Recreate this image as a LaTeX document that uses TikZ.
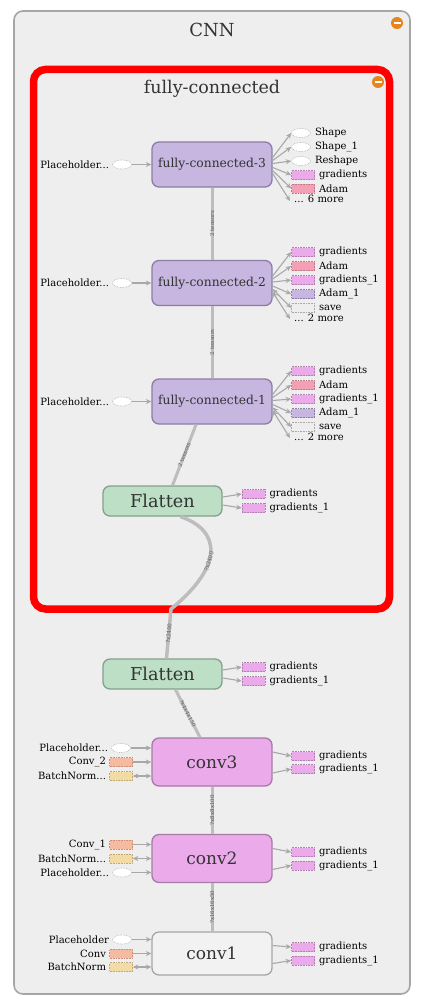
\documentclass[tikz,border=0pt]{standalone}
\usepackage{fontspec}
\setmainfont{DejaVu Serif}
\usetikzlibrary{arrows.meta,shapes.geometric,calc}
\definecolor{bgc}{HTML}{EEEEEE}
\definecolor{outc}{HTML}{A6A6A6}
\definecolor{txt}{HTML}{333333}
\definecolor{fcf}{HTML}{C6B6E0}
\definecolor{fcb}{HTML}{8C7DA6}
\definecolor{flf}{HTML}{BCDFC5}
\definecolor{flb}{HTML}{86A08C}
\definecolor{cvf}{HTML}{EBABEB}
\definecolor{cvb}{HTML}{A77BA7}
\definecolor{c1f}{HTML}{F2F2F2}
\definecolor{gradf}{HTML}{EBABEB}
\definecolor{gradb}{HTML}{B07FB0}
\definecolor{adamf}{HTML}{F2A0B4}
\definecolor{adamb}{HTML}{C07888}
\definecolor{convf}{HTML}{F5BBA0}
\definecolor{convb}{HTML}{C8907A}
\definecolor{bnf}{HTML}{F2DBA4}
\definecolor{bnb}{HTML}{C0A878}
\definecolor{arrc}{HTML}{A8A8A8}
\definecolor{edgec}{HTML}{BDBDBD}
\definecolor{iconc}{HTML}{E8841E}
\begin{document}
\begin{tikzpicture}[x=1pt,y=-1pt,
  fcbox/.style={draw=fcb,fill=fcf,rounded corners=7pt,line width=1.3pt,minimum width=120pt,minimum height=45pt,inner sep=0,text=txt,font=\fontsize{12.3}{14}\selectfont},
  flbox/.style={draw=flb,fill=flf,rounded corners=7pt,line width=1.3pt,minimum width=119pt,minimum height=30pt,inner sep=0,text=txt,font=\fontsize{17.7}{20}\selectfont},
  cvbox/.style={draw=cvb,fill=cvf,rounded corners=7pt,line width=1.3pt,minimum width=120pt,minimum height=48pt,inner sep=0,text=txt,font=\fontsize{17}{20}\selectfont},
  smr/.style={rectangle,densely dotted,line width=0.6pt,minimum width=23pt,minimum height=9pt,inner sep=0},
  sGrad/.style={smr,draw=gradb,fill=gradf},
  sAdam/.style={smr,draw=adamb,fill=adamf},
  sAdamOne/.style={smr,draw=fcb,fill=fcf},
  sConv/.style={smr,draw=convb,fill=convf},
  sBN/.style={smr,draw=bnb,fill=bnf},
  sSave/.style={smr,draw=arrc,fill=bgc},
  sPh/.style={ellipse,densely dotted,draw=arrc,fill=white,line width=0.6pt,minimum width=19pt,minimum height=9pt,inner sep=0},
  lab/.style={inner sep=0,text=black,font=\fontsize{10}{11}\selectfont},
  arr/.style={draw=arrc,line width=1.1pt,-{Stealth[length=5.5pt,width=5pt]}},
  darr/.style={draw=arrc,line width=1.1pt,{Stealth[length=5.5pt,width=5pt]}-{Stealth[length=5.5pt,width=5pt]}},
  edge/.style={draw=edgec,line width=3pt},
  elab/.style={sloped,inner sep=0,text=black!65,font=\fontsize{5.5}{6}\selectfont},
  ttl/.style={text=txt,inner sep=0},
  icon/.style={circle,fill=iconc,minimum size=12pt,inner sep=0}
]
\useasboundingbox (0,0) rectangle (421,1006);
% outer group
\node[draw=outc,fill=bgc,line width=1.6pt,rounded corners=9pt,minimum width=396pt,minimum height=983pt,inner sep=0] (cnn) at (212,502.5) {};
\node[ttl,font=\fontsize{18}{20}\selectfont] (cnnt) at (212,30) {CNN};
\node[icon] (ic1) at (397,23) {};
\draw[white,line width=2pt] ([xshift=-3.5pt]ic1.center) -- ([xshift=3.5pt]ic1.center);
% red group
\node[draw=red,fill=bgc,line width=7.5pt,rounded corners=12pt,minimum width=356pt,minimum height=539.5pt,inner sep=0] (fcg) at (211.5,339.25) {};
\node[ttl,font=\fontsize{17.5}{20}\selectfont] (fcgt) at (212,89) {fully-connected};
\node[icon] (ic2) at (378,82) {};
\draw[white,line width=2pt] ([xshift=-3.5pt]ic2.center) -- ([xshift=3.5pt]ic2.center);

% main nodes
\node[fcbox] (fc3) at (212,164.5) {fully-connected-3};
\node[fcbox] (fc2) at (212,283) {fully-connected-2};
\node[fcbox] (fc1) at (212,401.5) {fully-connected-1};
\node[flbox] (fl1) at (162.5,501) {Flatten};
\node[flbox] (fl2) at (162.5,674) {Flatten};
\node[cvbox] (cv3) at (212,762) {conv3};
\node[cvbox] (cv2) at (212,858.5) {conv2};
\node[cvbox,draw=outc,fill=c1f,minimum height=43pt] (cv1) at (212,953.5) {conv1};

% main edges
\coordinate (cross) at (171,609);
\draw[edge] (fc2) -- node[elab] {2 tensors} (fc3);
\draw[edge] (fc1) -- node[elab] {2 tensors} (fc2);
\draw[edge] ([xshift=10pt]fl1.north) -- node[elab] {2 tensors} ([xshift=-16pt]fc1.south);
\draw[edge,line width=3.5pt] ([xshift=4pt]fl2.north) -- node[elab] {?x2400} (cross)
   .. controls (225,565) and (220,530) .. node[elab,pos=0.4] {?x2400} ([xshift=18pt]fl1.south);
\draw[edge] ([xshift=-12pt]cv3.north) -- node[elab] {?x4x4x150} ([xshift=13pt]fl2.south);
\draw[edge] (cv2) -- node[elab] {?x8x8x100} (cv3);
\draw[edge] (cv1) -- node[elab] {?x16x16x50} (cv2);

% ---- fc3 side nodes
\node[sPh] (p3) at (122,164.5) {};
\node[lab,anchor=east] (p3l) at ([xshift=-3pt]p3.west) {Placeholder...};
\draw[arr] (p3) -- (p3 -| fc3.west);
\node[sPh] (a1) at (301,133) {};
\node[lab,anchor=west] (a1l) at ([xshift=4pt]a1.east) {Shape};
\node[sPh] (a2) at (301,147) {};
\node[lab,anchor=west] (a2l) at ([xshift=4pt]a2.east) {Shape\_1};
\node[sPh] (a3) at (301,161) {};
\node[lab,anchor=west] (a3l) at ([xshift=4pt]a3.east) {Reshape};
\node[sGrad] (a4) at (303,175) {};
\node[lab,anchor=west] (a4l) at ([xshift=4pt]a4.east) {gradients};
\node[sAdam] (a5) at (303,188.5) {};
\node[lab,anchor=west] (a5l) at ([xshift=4pt]a5.east) {Adam};
\node[lab,anchor=west] (a6l) at (294,199) {... 6 more};
\coordinate (a6) at (290,201);
\draw[arr] ([yshift=7pt]fc3.east) -- (a1.west);
\draw[arr] ([yshift=4pt]fc3.east) -- (a2.west);
\draw[arr] ([yshift=1pt]fc3.east) -- (a3.west);
\draw[arr] ([yshift=-3pt]fc3.east) -- (a4.west);
\draw[arr] ([yshift=-6pt]fc3.east) -- (a5.west);
\draw[arr] ([yshift=-9pt]fc3.east) -- (a6);

% ---- fc2 side nodes
\node[sPh] (p2) at (122,283) {};
\node[lab,anchor=east] (p2l) at ([xshift=-3pt]p2.west) {Placeholder...};
\draw[arr] (p2) -- (p2 -| fc2.west);
\node[sGrad] (b1) at (303,252) {};
\node[lab,anchor=west] (b1l) at ([xshift=4pt]b1.east) {gradients};
\node[sAdam] (b2) at (303,266) {};
\node[lab,anchor=west] (b2l) at ([xshift=4pt]b2.east) {Adam};
\node[sGrad] (b3) at (303,280) {};
\node[lab,anchor=west] (b3l) at ([xshift=4pt]b3.east) {gradients\_1};
\node[sAdamOne] (b4) at (303,294) {};
\node[lab,anchor=west] (b4l) at ([xshift=4pt]b4.east) {Adam\_1};
\node[sSave] (b5) at (303,308) {};
\node[lab,anchor=west] (b5l) at ([xshift=4pt]b5.east) {save};
\node[lab,anchor=west] (b6l) at (294,318) {... 2 more};
\coordinate (b6) at (290,319);
\draw[arr] ([yshift=7pt]fc2.east) -- (b1.west);
\draw[arr] ([yshift=4pt]fc2.east) -- (b2.west);
\draw[arr] ([yshift=1pt]fc2.east) -- (b3.west);
\draw[arr] ([yshift=-3pt]fc2.east) -- (b4.west);
\draw[darr] ([yshift=-6pt]fc2.east) -- (b5.west);
\draw[darr] ([yshift=-9pt]fc2.east) -- (b6);

% ---- fc1 side nodes
\node[sPh] (p1) at (122,401.5) {};
\node[lab,anchor=east] (p1l) at ([xshift=-3pt]p1.west) {Placeholder...};
\draw[arr] (p1) -- (p1 -| fc1.west);
\node[sGrad] (c1) at (303,371) {};
\node[lab,anchor=west] (c1l) at ([xshift=4pt]c1.east) {gradients};
\node[sAdam] (c2) at (303,385) {};
\node[lab,anchor=west] (c2l) at ([xshift=4pt]c2.east) {Adam};
\node[sGrad] (c3) at (303,399) {};
\node[lab,anchor=west] (c3l) at ([xshift=4pt]c3.east) {gradients\_1};
\node[sAdamOne] (c4) at (303,413) {};
\node[lab,anchor=west] (c4l) at ([xshift=4pt]c4.east) {Adam\_1};
\node[sSave] (c5) at (303,427) {};
\node[lab,anchor=west] (c5l) at ([xshift=4pt]c5.east) {save};
\node[lab,anchor=west] (c6l) at (294,437) {... 2 more};
\coordinate (c6) at (290,438);
\draw[arr] ([yshift=7pt]fc1.east) -- (c1.west);
\draw[arr] ([yshift=4pt]fc1.east) -- (c2.west);
\draw[arr] ([yshift=1pt]fc1.east) -- (c3.west);
\draw[arr] ([yshift=-3pt]fc1.east) -- (c4.west);
\draw[darr] ([yshift=-6pt]fc1.east) -- (c5.west);
\draw[darr] ([yshift=-9pt]fc1.east) -- (c6);

% ---- Flatten (inner)
\node[sGrad] (d1) at (253.5,494) {};
\node[lab,anchor=west] (d1l) at ([xshift=4pt]d1.east) {gradients};
\node[sGrad] (d2) at (253.5,508) {};
\node[lab,anchor=west] (d2l) at ([xshift=4pt]d2.east) {gradients\_1};
\draw[arr] ([yshift=4pt]fl1.east) -- (d1.west);
\draw[arr] ([yshift=-4pt]fl1.east) -- (d2.west);

% ---- Flatten (outer)
\node[sGrad] (e1) at (253.5,667) {};
\node[lab,anchor=west] (e1l) at ([xshift=4pt]e1.east) {gradients};
\node[sGrad] (e2) at (253.5,681) {};
\node[lab,anchor=west] (e2l) at ([xshift=4pt]e2.east) {gradients\_1};
\draw[arr] ([yshift=4pt]fl2.east) -- (e1.west);
\draw[arr] ([yshift=-4pt]fl2.east) -- (e2.west);

% ---- conv3
\node[sPh] (g1) at (121,748) {};
\node[lab,anchor=east] (g1l) at ([xshift=-3pt]g1.west) {Placeholder...};
\node[sConv] (g2) at (121,762) {};
\node[lab,anchor=east] (g2l) at ([xshift=-3pt]g2.west) {Conv\_2};
\node[sBN] (g3) at (121,776) {};
\node[lab,anchor=east] (g3l) at ([xshift=-3pt]g3.west) {BatchNorm...};
\draw[arr] (g1) -- (g1 -| cv3.west);
\draw[arr] (g2) -- (g2 -| cv3.west);
\draw[darr] (g3) -- (g3 -| cv3.west);
\node[sGrad] (h1) at (303,756) {};
\node[lab,anchor=west] (h1l) at ([xshift=4pt]h1.east) {gradients};
\node[sGrad] (h2) at (303,769) {};
\node[lab,anchor=west] (h2l) at ([xshift=4pt]h2.east) {gradients\_1};
\draw[arr] ([yshift=10pt]cv3.east) -- (h1.west);
\draw[arr] ([yshift=-11pt]cv3.east) -- (h2.west);

% ---- conv2
\node[sConv] (k1) at (121,844.5) {};
\node[lab,anchor=east] (k1l) at ([xshift=-3pt]k1.west) {Conv\_1};
\node[sBN] (k2) at (121,858.5) {};
\node[lab,anchor=east] (k2l) at ([xshift=-3pt]k2.west) {BatchNorm...};
\node[sPh] (k3) at (122,872.5) {};
\node[lab,anchor=east] (k3l) at ([xshift=-3pt]k3.west) {Placeholder...};
\draw[arr] (k1) -- (k1 -| cv2.west);
\draw[darr] (k2) -- (k2 -| cv2.west);
\draw[arr] (k3) -- (k3 -| cv2.west);
\node[sGrad] (m1) at (303,852) {};
\node[lab,anchor=west] (m1l) at ([xshift=4pt]m1.east) {gradients};
\node[sGrad] (m2) at (303,865.5) {};
\node[lab,anchor=west] (m2l) at ([xshift=4pt]m2.east) {gradients\_1};
\draw[arr] ([yshift=10pt]cv2.east) -- (m1.west);
\draw[arr] ([yshift=-11pt]cv2.east) -- (m2.west);

% ---- conv1
\node[sPh] (q1) at (122,939.5) {};
\node[lab,anchor=east] (q1l) at ([xshift=-3pt]q1.west) {Placeholder};
\node[sConv] (q2) at (121,953.5) {};
\node[lab,anchor=east] (q2l) at ([xshift=-3pt]q2.west) {Conv};
\node[sBN] (q3) at (121,967) {};
\node[lab,anchor=east] (q3l) at ([xshift=-3pt]q3.west) {BatchNorm};
\draw[arr] (q1) -- (q1 -| cv1.west);
\draw[arr] (q2) -- (q2 -| cv1.west);
\draw[darr] (q3) -- (q3 -| cv1.west);
\node[sGrad] (r1) at (303,947) {};
\node[lab,anchor=west] (r1l) at ([xshift=4pt]r1.east) {gradients};
\node[sGrad] (r2) at (303,960.5) {};
\node[lab,anchor=west] (r2l) at ([xshift=4pt]r2.east) {gradients\_1};
\draw[arr] ([yshift=8pt]cv1.east) -- (r1.west);
\draw[arr] ([yshift=-10pt]cv1.east) -- (r2.west);
\end{tikzpicture}
\end{document}
